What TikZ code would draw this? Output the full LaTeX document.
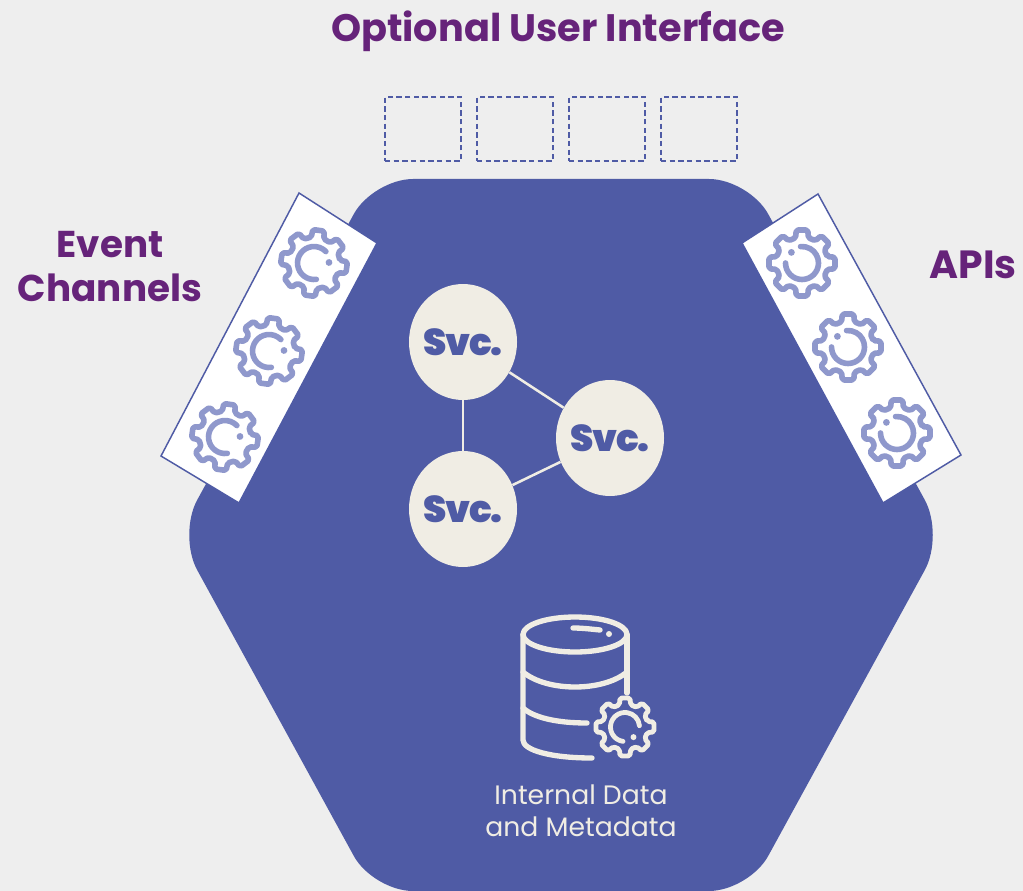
\documentclass[tikz,border=0pt]{standalone}
\usepackage{fontspec}
\setmainfont{Poppins}
\newfontfamily\svcfont[LetterSpace=-4]{Poppins Black}
\definecolor{bgc}{HTML}{EEEEEE}
\definecolor{hexc}{HTML}{4F5BA5}
\definecolor{purp}{HTML}{66237A}
\definecolor{gearc}{HTML}{8F98CC}
\definecolor{creamc}{HTML}{F0EDE4}
\newcommand{\gearicon}[9]{%
 \begin{scope}[shift={(#1,#2)},rotate=#3,scale=#4,line cap=round,line join=round]
  \draw[draw=#8,line width=#9,rounded corners=1.4pt] (-14:26)
   \foreach \a in {0,45,...,315}{ -- (\a-14:26) -- (\a-10:33.5) -- (\a+10:33.5) -- (\a+14:26)} -- cycle;
  \draw[draw=#8,line width=#9] ({#5-#3}:16.5) arc[start angle={#5-#3},end angle={#6-#3},radius=16.5];
  \fill[#8] ({#7-#3}:15) circle[radius=3.4];
 \end{scope}}
\usetikzlibrary{shapes.geometric}
\tikzset{
 x=0.75pt,y=-0.75pt,
 slotbox/.style={draw=hexc,line width=1.1pt,minimum width=57pt,minimum height=48pt,inner sep=0pt,dash pattern=on 4pt off 2.5pt},
 svcnode/.style={ellipse,fill=creamc,minimum width=81pt,minimum height=87pt,inner sep=0pt,text=hexc,font=\fontsize{28}{28}\svcfont},
 svclink/.style={draw=creamc,line width=1.9pt},
 heading/.style={text=purp,font=\fontsize{28.7}{33}\selectfont\bfseries,align=center,inner sep=0pt},
 sidehead/.style={heading,font=\fontsize{28}{33}\selectfont\bfseries},
 panel/.style={fill=white,draw=hexc,line width=1.1pt,line join=miter},
 dbline/.style={draw=creamc,line width=4pt,line cap=round,line join=round},
}
\begin{document}
\begin{tikzpicture}
\useasboundingbox (0,0) rectangle (1023,891);
\fill[bgc] (0,0) rectangle (1023,891);
\begin{scope}
\clip (0,0) rectangle (1023,891);
\fill[hexc,rounded corners=30pt] (373,179) -- (749,179) -- (944,535) -- (749,891) -- (373,891) -- (178,535) -- cycle;
\end{scope}
\node[heading] (title) at (558,31) {Optional User Interface};
\node[sidehead] (event) at (110,267) {Event\\Channels};
\node[sidehead,font=\fontsize{29.5}{33}\selectfont\bfseries] (apis) at (973,265) {APIs};
\node[slotbox] (s1) at (423,129) {};
\node[slotbox] (s2) at (515,129) {};
\node[slotbox] (s3) at (607,129) {};
\node[slotbox] (s4) at (699,129) {};
\draw[panel] (299,193) -- (377,243) -- (239,503) -- (161,456) -- cycle;
\draw[panel] (742,243) -- (818,194) -- (961,455) -- (883,503) -- cycle;
\gearicon{314}{263}{-8}{1}{66}{300}{-18}{gearc}{4.2pt}
\gearicon{269}{351}{-8}{1}{66}{300}{-18}{gearc}{4.2pt}
\gearicon{225}{437}{-8}{1}{66}{300}{-18}{gearc}{4.2pt}
\gearicon{802}{263}{0}{1}{180}{-95}{225}{gearc}{4.2pt}
\gearicon{848}{347}{0}{1}{180}{-95}{225}{gearc}{4.2pt}
\gearicon{897}{433}{0}{1}{180}{-95}{225}{gearc}{4.2pt}
\node[svcnode] (a) at (463,342) {\makebox[0pt][c]{Svc.}};
\node[svcnode] (b) at (610,438) {\makebox[0pt][c]{Svc.}};
\node[svcnode] (c) at (463,509) {\makebox[0pt][c]{Svc.}};
\draw[svclink] (a) -- (b);
\draw[svclink] (b) -- (c);
\draw[svclink] (a) -- (c);
% database
\draw[dbline] (575,634.5) ellipse[x radius=52,y radius=17.5];
\draw[dbline] (523,634.5) -- (523,740) .. controls (523,750) and (550,758) .. (592,758);
\draw[dbline] (627,634.5) -- (627,693);
\draw[dbline] (523,672) .. controls (535,682) and (555,687) .. (575,687) .. controls (595,687) and (615,682) .. (627,672);
\draw[dbline] (523,708) .. controls (533,717) and (555,723) .. (587,723);
\draw[dbline] (573,628) .. controls (582,628) and (590,629) .. (600,630);
\fill[creamc] (609,634) circle[radius=3];
\gearicon{625}{727}{0}{0.88}{98}{355}{50}{creamc}{3.6pt}
\node[text=creamc,font=\fontsize{20}{24}\selectfont,align=center,inner sep=0pt] (dbl) at (581,811) {Internal Data\\and Metadata};
\end{tikzpicture}
\end{document}
